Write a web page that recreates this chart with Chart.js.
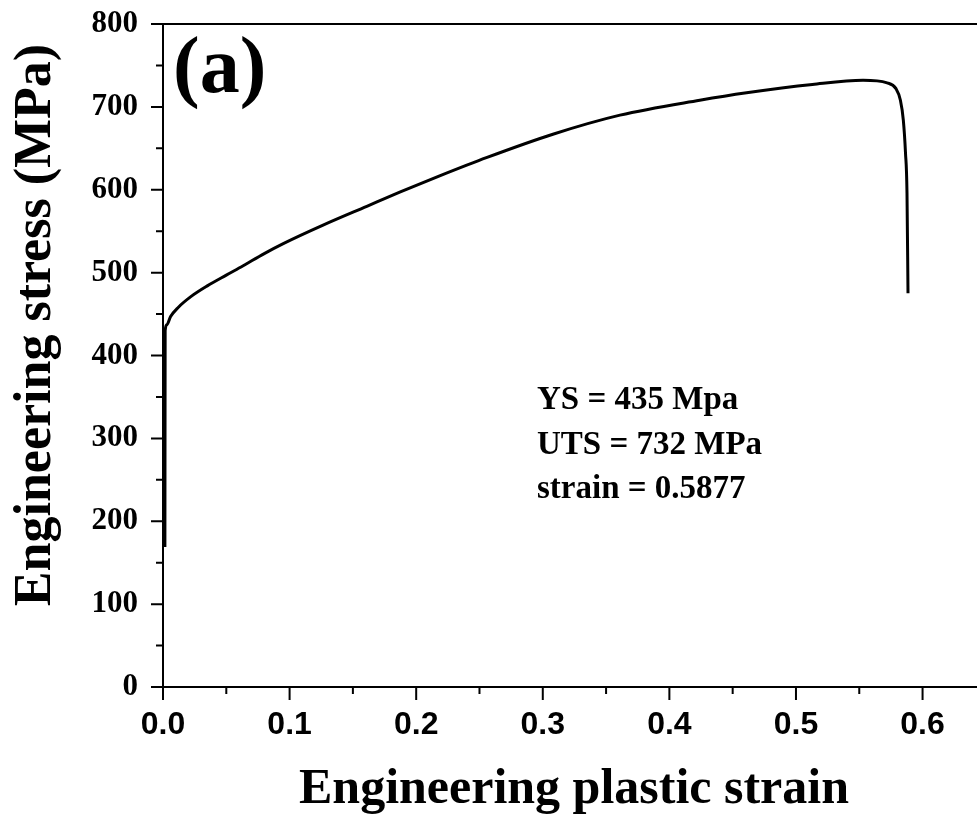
<!DOCTYPE html>
<html>
<head>
<meta charset="utf-8">
<title>Engineering stress-strain curve</title>
<script src="https://cdn.jsdelivr.net/npm/chart.js@4.4.1/dist/chart.umd.min.js"></script>
<style>
  html, body { margin: 0; padding: 0; background: #fff; overflow: hidden; }
  canvas { display: block; }
</style>
</head>
<body>
<canvas id="ssChart" width="977" height="819"></canvas>
<script>
// tensile test curve (engineering plastic strain vs engineering stress, MPa)
const strain = [0.0015, 0.0017, 0.003, 0.006, 0.012, 0.022, 0.035, 0.05, 0.063, 0.08, 0.095,
                0.126, 0.161, 0.187, 0.219, 0.256, 0.308, 0.361, 0.424, 0.461, 0.513, 0.553,
                0.572, 0.579, 0.5825, 0.5848, 0.5865, 0.5877, 0.5885];
const stress = [169, 430, 437, 447, 458, 471, 484, 497, 508, 523, 535,
                557, 580, 597, 617, 639, 667, 690, 708, 717, 727, 732,
                729, 722, 708, 684, 645, 596, 475];

const panelLabel = "(a)";
const resultLines = ["YS = 435 Mpa", "UTS = 732 MPa", "strain = 0.5877"];
const xTitle = "Engineering plastic strain";
const yTitle = "Engineering stress (MPa)";

const serif = "'Liberation Serif', 'Times New Roman', serif";
const sans = "'Liberation Sans', Arial, sans-serif";

// keep only clean multiples of the step
function stepTicks(step) {
    return function (scale) {
        scale.ticks = scale.ticks.filter(t => {
            const r = t.value / step;
            return Math.abs(r - Math.round(r)) < 1e-6;
        });
    };
}

// axis lines plus long (labelled) and short (minor) outward tick marks
const frame = {
    id: "frame",
    afterDraw(chart) {
        const { ctx, chartArea: a, scales: { x, y } } = chart;
        ctx.save();
        ctx.strokeStyle = "#000";
        ctx.lineWidth = 2;
        ctx.beginPath();
        ctx.moveTo(a.left, a.top);
        ctx.lineTo(a.right, a.top);
        ctx.moveTo(a.left, a.top);
        ctx.lineTo(a.left, a.bottom);
        ctx.lineTo(a.right, a.bottom);
        x.ticks.forEach(t => {
            const px = x.getPixelForValue(t.value);
            const major = Math.abs(t.value * 10 - Math.round(t.value * 10)) < 1e-6;
            ctx.moveTo(px, a.bottom);
            ctx.lineTo(px, a.bottom + (major ? 13 : 7));
        });
        y.ticks.forEach(t => {
            const py = y.getPixelForValue(t.value);
            const major = t.value % 100 === 0;
            ctx.moveTo(a.left, py);
            ctx.lineTo(a.left - (major ? 12 : 7), py);
        });
        ctx.stroke();

        ctx.fillStyle = "#000";
        ctx.textBaseline = "alphabetic";

        ctx.font = "bold 80px " + serif;
        ctx.textAlign = "left";
        ctx.fillText(panelLabel, a.left + 10, a.top + 68);

        ctx.font = "bold 33px " + serif;
        resultLines.forEach((s, i) => ctx.fillText(s, 537, 409 + i * 44.5));

        ctx.font = "bold 50px " + serif;
        ctx.textAlign = "center";
        ctx.fillText(xTitle, 574, 803);

        ctx.translate(50, 325);
        ctx.rotate(-Math.PI / 2);
        ctx.font = "bold 52px " + serif;
        ctx.fillText(yTitle, 0, 0);
        ctx.restore();
    }
};

new Chart(document.getElementById("ssChart"), {
    type: "line",
    data: {
        datasets: [{
            data: strain.map((v, i) => ({ x: v, y: stress[i] })),
            borderColor: "#000",
            borderWidth: 3,
            pointRadius: 0,
            cubicInterpolationMode: "monotone",
            fill: false
        }]
    },
    options: {
        responsive: false,
        animation: false,
        layout: { padding: { top: 24, left: 0, right: 0, bottom: 0 } },
        plugins: { legend: { display: false }, tooltip: { enabled: false } },
        scales: {
            x: {
                type: "linear",
                min: 0,
                max: 0.643,
                grid: { display: false, drawTicks: false },
                border: { display: false },
                afterBuildTicks: stepTicks(0.05),
                afterFit(scale) {
                    scale.height = 132;
                    scale.paddingLeft = 0;
                    scale.paddingRight = 0;
                },
                ticks: {
                    stepSize: 0.05,
                    includeBounds: false,
                    autoSkip: false,
                    maxRotation: 0,
                    padding: 19,
                    color: "#000",
                    font: { family: sans, size: 32, weight: "bold" },
                    callback: v => Math.abs(v * 10 - Math.round(v * 10)) < 1e-6 ? v.toFixed(1) : ""
                }
            },
            y: {
                min: 0,
                max: 800,
                grid: { display: false, drawTicks: false },
                border: { display: false },
                afterBuildTicks: stepTicks(50),
                afterFit(scale) {
                    scale.width = 163;
                    scale.paddingTop = 0;
                    scale.paddingBottom = 0;
                },
                ticks: {
                    stepSize: 50,
                    includeBounds: false,
                    autoSkip: false,
                    padding: 25,
                    color: "#000",
                    font: { family: serif, size: 31, weight: "bold" },
                    callback: v => v % 100 === 0 ? String(v) : ""
                }
            }
        }
    },
    plugins: [frame]
});
</script>
</body>
</html>
